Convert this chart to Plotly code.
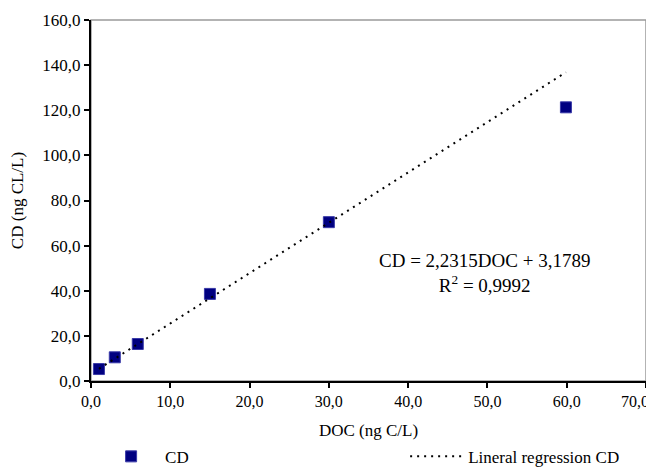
import plotly.graph_objects as go

doc = [1.0, 3.0, 5.9, 15.0, 30.0, 59.9]
cd = [5.3, 10.5, 16.4, 38.6, 70.4, 121.3]
slope = 2.2315
intercept = 3.1789
x_ticks = [0, 10, 20, 30, 40, 50, 60, 70]
x_tick_text = ["0,0", "10,0", "20,0", "30,0", "40,0", "50,0", "60,0", "70,0"]
y_ticks = [0, 20, 40, 60, 80, 100, 120, 140, 160]

reg_x = [doc[0], doc[-1]]
reg_y = [slope * v + intercept for v in reg_x]

font = "Liberation Serif, Times New Roman, serif"

fig = go.Figure()
fig.add_trace(go.Scatter(
    x=doc, y=cd, mode="markers", name="CD", legend="legend",
    marker=dict(symbol="square", size=11, color="#000080",
                line=dict(color="#3a3aa8", width=1)),
))
fig.add_trace(go.Scatter(
    x=reg_x, y=reg_y, mode="lines", name="Lineral regression CD", legend="legend2",
    line=dict(color="black", width=2, dash="2px,5px"),
))

fig.add_annotation(
    x=49.6, y=48.0, xref="x", yref="y", showarrow=False,
    text="CD = 2,2315DOC + 3,1789<br>R<sup>2</sup> = 0,9992",
    font=dict(family=font, size=19, color="black"), align="center",
)

# last x tick label kept inside the page (as in the reference)
fig.add_annotation(
    x=x_ticks[-1], y=0, xref="x", yref="paper", xanchor="right", yanchor="middle",
    xshift=5, yshift=-20, showarrow=False, text=x_tick_text[-1],
    font=dict(family=font, size=16, color="black"),
)

fig.add_shape(type="rect", xref="paper", yref="paper", x0=0, x1=1, y0=0, y1=1,
              line=dict(color="#9a9a9a", width=1.5), layer="below")

leg_common = dict(orientation="h", yanchor="middle", xanchor="left",
                  font=dict(family=font, size=17), bgcolor="rgba(0,0,0,0)")
fig.update_layout(
    width=654, height=468,
    margin=dict(l=83, r=16, t=12, b=95, autoexpand=False),
    paper_bgcolor="white", plot_bgcolor="white",
    separators=", ",
    font=dict(family=font, size=16, color="black"),
    showlegend=True,
    legend=dict(x=0.011, y=-0.21, itemwidth=58, **leg_common),
    legend2=dict(x=0.566, y=-0.21, itemwidth=53, **leg_common),
)
fig.update_xaxes(
    range=[0, 70], tickvals=x_ticks, ticktext=x_tick_text[:-1] + [""], automargin=False,
    showline=True, linecolor="black", linewidth=2,
    ticks="outside", ticklen=5, tickwidth=2, tickcolor="black",
    showgrid=False, zeroline=False,
    title=dict(text="DOC (ng C/L)", font=dict(family=font, size=17), standoff=15),
)
fig.update_yaxes(
    range=[0, 160], tickvals=y_ticks, tickformat=".1f", automargin=False,
    showline=True, linecolor="black", linewidth=2,
    ticks="outside", ticklen=5, tickwidth=2, tickcolor="black",
    tickfont=dict(size=17),
    showgrid=False, zeroline=False,
    title=dict(text="CD (ng CL/L)", font=dict(family=font, size=17), standoff=16),
)

fig.write_html("out.html")
